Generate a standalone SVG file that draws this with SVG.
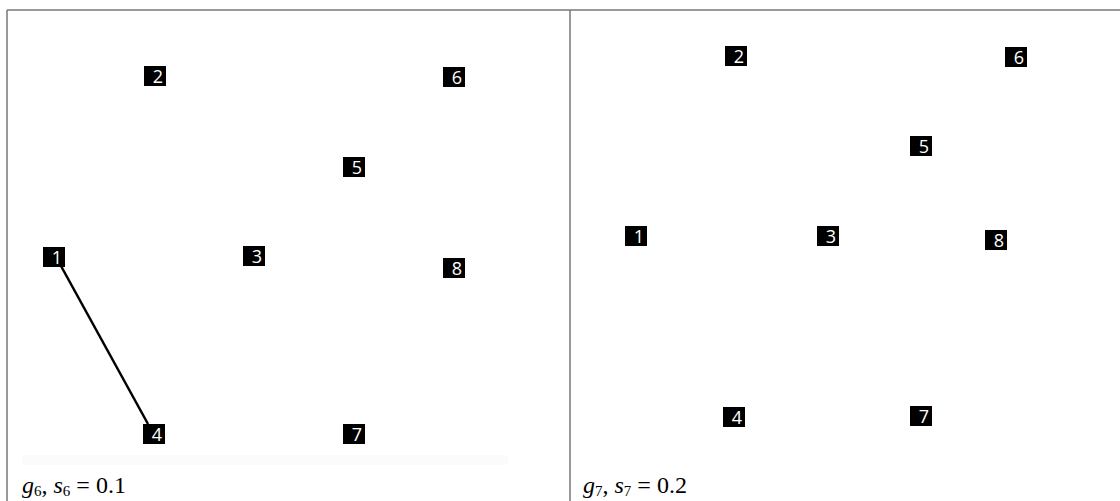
<svg xmlns="http://www.w3.org/2000/svg" width="1120" height="501" viewBox="0 0 1120 501">
<style>
.frame{stroke:#777;stroke-width:1.5;fill:none}
.box{fill:#000}
.num{fill:#fff;font-family:"Open Sans","Liberation Sans",sans-serif;font-size:18px;text-anchor:middle}
.edge{stroke:#000;stroke-width:2.5;fill:none}
.cap{font-family:"Liberation Serif","DejaVu Serif",serif;font-size:24px;fill:#000}
.sub{font-size:15px}
</style>
<defs>
<g id="nb"><rect class="box" x="-11" y="-10" width="22" height="20"/></g>
</defs>
<rect width="1120" height="501" fill="#fff"/>
<g id="frames">
<line class="frame" x1="7" y1="10" x2="1120" y2="10"/>
<line class="frame" x1="7" y1="10" x2="7" y2="501"/>
<line class="frame" x1="570" y1="10" x2="570" y2="501"/>
<rect x="22" y="455" width="486" height="10" fill="#fbfbfb"/>
</g>
<g id="connectors">
<line class="edge" x1="61" y1="266" x2="148" y2="424"/>
</g>
<g id="left-nodes">
<g id="L1" transform="translate(54,257)"><use href="#nb"/><text class="num" x="3" y="7">1</text></g>
<g id="L2" transform="translate(155,76)"><use href="#nb"/><text class="num" x="3" y="7">2</text></g>
<g id="L3" transform="translate(254,256)"><use href="#nb"/><text class="num" x="3" y="7">3</text></g>
<g id="L4" transform="translate(154,434)"><use href="#nb"/><text class="num" x="3" y="7">4</text></g>
<g id="L5" transform="translate(354,167)"><use href="#nb"/><text class="num" x="3" y="7">5</text></g>
<g id="L6" transform="translate(454,77)"><use href="#nb"/><text class="num" x="3" y="7">6</text></g>
<g id="L7" transform="translate(354,434)"><use href="#nb"/><text class="num" x="3" y="7">7</text></g>
<g id="L8" transform="translate(454,268)"><use href="#nb"/><text class="num" x="3" y="7">8</text></g>
</g>
<g id="right-nodes">
<g id="R1" transform="translate(636,236)"><use href="#nb"/><text class="num" x="3" y="7">1</text></g>
<g id="R2" transform="translate(736,56)"><use href="#nb"/><text class="num" x="3" y="7">2</text></g>
<g id="R3" transform="translate(828,236)"><use href="#nb"/><text class="num" x="3" y="7">3</text></g>
<g id="R4" transform="translate(734,417)"><use href="#nb"/><text class="num" x="3" y="7">4</text></g>
<g id="R5" transform="translate(921,146)"><use href="#nb"/><text class="num" x="3" y="7">5</text></g>
<g id="R6" transform="translate(1016,57)"><use href="#nb"/><text class="num" x="3" y="7">6</text></g>
<g id="R7" transform="translate(921,416)"><use href="#nb"/><text class="num" x="3" y="7">7</text></g>
<g id="R8" transform="translate(996,240)"><use href="#nb"/><text class="num" x="3" y="7">8</text></g>
</g>
<g id="captions">
<text class="cap" x="22" y="493"><tspan font-style="italic">g</tspan><tspan class="sub" dy="3">6</tspan><tspan dy="-3">, </tspan><tspan font-style="italic">s</tspan><tspan class="sub" dy="3">6</tspan><tspan dy="-3"> = 0.1</tspan></text>
<text class="cap" x="583" y="493"><tspan font-style="italic">g</tspan><tspan class="sub" dy="3">7</tspan><tspan dy="-3">, </tspan><tspan font-style="italic">s</tspan><tspan class="sub" dy="3">7</tspan><tspan dy="-3"> = 0.2</tspan></text>
</g>
</svg>
